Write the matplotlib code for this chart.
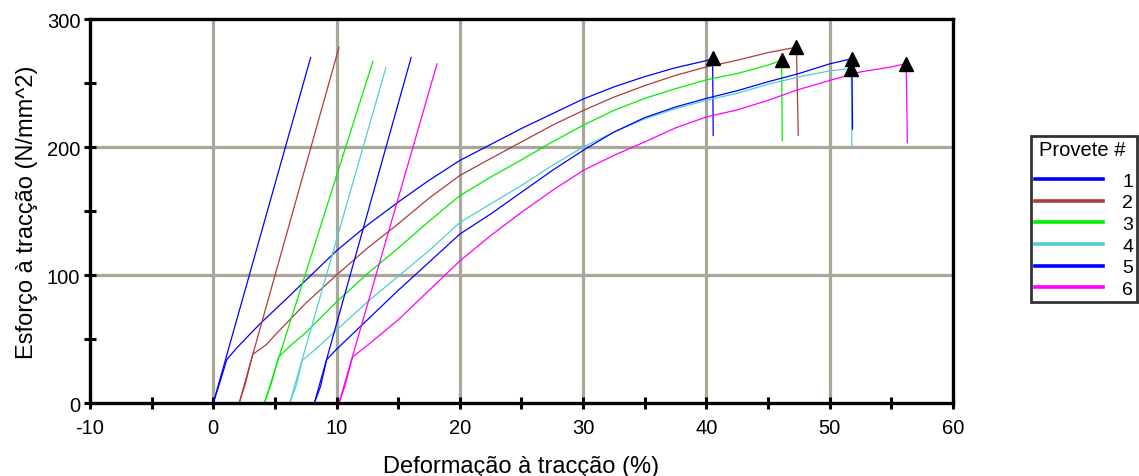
"""Tensile test curves for six specimens (stress vs strain)."""

import matplotlib

matplotlib.use("Agg")
import matplotlib.pyplot as plt
from matplotlib.lines import Line2D

plt.rcParams["font.family"] = ["Liberation Sans", "DejaVu Sans"]

# specimen labels and colours
specimens = ["1", "2", "3", "4", "5", "6"]
colors = ["#0000ff", "#b03a3a", "#00ee00", "#4fd0d0", "#0000ff", "#ff00ff"]

# strain (%) / stress (N/mm^2) curves, last point is the drop after rupture
strain_1 = [0, 0.5, 1.1, 1.9, 3.8, 6, 10, 12.5, 15, 17.5, 20, 22.5, 25, 27.5,
            30, 32.5, 35, 37.5, 40, 40.5, 40.55]
stress_1 = [0, 15, 34, 43, 62, 82, 119, 139, 157, 174, 189.5, 202, 214.5, 226,
            237.5, 247, 255, 262, 267.5, 269.7, 209]

strain_2 = [2.1, 2.6, 3.2, 4.35, 5, 7.5, 10, 12.5, 15, 17.5, 20, 22.5, 25, 27.5,
            30, 32.5, 35, 37.5, 40, 42.5, 45, 47.3, 47.45]
stress_2 = [0, 15, 38, 46, 53, 78, 100, 121, 140, 160, 177.8, 191, 204, 217,
            228.5, 239, 248, 256, 262.6, 267.8, 273.8, 278, 209]

strain_3 = [4.15, 4.7, 5.3, 6.4, 7.5, 10, 12.5, 15, 17.5, 20, 22.5, 25, 27.5,
            30, 32.5, 35, 37.5, 40, 42.5, 45, 46.1, 46.15]
stress_3 = [0, 15, 36, 46, 55, 79, 101, 121, 142, 162, 176.5, 190, 204,
            217, 228.7, 238, 245.6, 252.5, 257.4, 264, 267.8, 205]

strain_4 = [6.2, 6.7, 7.2, 8.4, 10, 12.5, 15, 17.5, 20, 22.5, 25, 27.5, 30,
            32.5, 35, 37.5, 40, 42.5, 45, 47.5, 50, 51.75, 51.8]
stress_4 = [0, 13, 33, 43, 57, 79, 99, 119, 141, 155.6, 170, 185.6, 200,
            211.7, 222, 230, 236.5, 242, 249, 254.8, 259.5, 261.3, 200]

strain_5 = [8.2, 8.7, 9.2, 10, 12.5, 15, 17.5, 20, 22.5, 25, 27.5, 30, 32.5,
            35, 37.5, 40, 42.5, 45, 47.5, 50, 51.8, 51.85]
stress_5 = [0, 13, 34, 42, 65, 88, 110, 132, 147.7, 164.7, 181.7, 197.4, 211.7,
            223, 231.3, 238, 244, 251, 257.4, 265, 269, 214]

strain_6 = [10.2, 10.7, 11.3, 12.5, 15, 17.5, 20, 22.5, 25, 27.5, 30, 32.5, 35,
            37.5, 40, 42.5, 45, 47.5, 50, 52.5, 55, 56.2, 56.3]
stress_6 = [0, 14, 36, 45, 65, 88, 111, 130.8, 149, 166, 181.7, 193.5, 204,
            215, 223.5, 229, 236.5, 245, 252, 258.7, 262.6, 265.2, 203.4]

strains = [strain_1, strain_2, strain_3, strain_4, strain_5, strain_6]
stresses = [stress_1, stress_2, stress_3, stress_4, stress_5, stress_6]

# elastic modulus lines: start strain, end strain, end stress
elastic_start = [0, 2.1, 4.15, 6.2, 8.2, 10.2]
elastic_end_strain = [7.9, 10.2, 12.95, 14.0, 16.05, 18.15]
elastic_end_stress = [270, 278, 267, 262, 270, 265]

x_ticks = [-10, 0, 10, 20, 30, 40, 50, 60]
y_ticks = [0, 100, 200, 300]

fig = plt.figure(figsize=(11.39, 4.77), dpi=100)
ax = fig.add_axes([0.079, 0.153, 0.7577, 0.805])

grid_color = "#aaa69a"
for gx in x_ticks[1:-1]:
    ax.axvline(gx, color=grid_color, lw=2.3, zorder=0)
for gy in y_ticks[1:-1]:
    ax.axhline(gy, color=grid_color, lw=2.3, zorder=0)

for i in range(len(specimens)):
    ax.plot(strains[i], stresses[i], color=colors[i], lw=0.9, zorder=2)
    ax.plot([elastic_start[i], elastic_end_strain[i]], [0, elastic_end_stress[i]],
            color=colors[i], lw=0.9, zorder=2)
    ax.plot(strains[i][-2], stresses[i][-2], marker="^", color="black",
            markersize=10, zorder=4, clip_on=False)

ax.set_xlim(-10, 60)
ax.set_ylim(0, 300)
ax.set_xticks(range(-10, 61, 5))
ax.set_xticklabels([str(t) if t % 10 == 0 else "" for t in range(-10, 61, 5)])
ax.set_yticks(range(0, 301, 50))
ax.set_yticklabels([str(t) if t % 100 == 0 else "" for t in range(0, 301, 50)])
ax.tick_params(direction="inout", length=9, width=2.2, labelsize=14.5)
ax.tick_params(axis="x", pad=6)
ax.tick_params(axis="y", pad=2.5)
for side in ["left", "right", "top", "bottom"]:
    ax.spines[side].set_linewidth(2.4)
    ax.spines[side].set_zorder(5)

ax.set_xlabel("Deformação à tracção (%)", fontsize=17, labelpad=13)
ax.set_ylabel("Esforço à tracção (N/mm^2)", fontsize=17, labelpad=6)

handles = [Line2D([0], [0], color=c, lw=2.6) for c in colors]
leg = fig.legend(handles, specimens, title="Provete #", loc="upper left",
                 bbox_to_anchor=(1031 / 1139, 1 - 137 / 477), fontsize=14,
                 title_fontsize=14.5, frameon=True, fancybox=False,
                 handlelength=3.5, handletextpad=1.0, labelspacing=0.21,
                 borderpad=0.2, alignment="left", borderaxespad=0)
leg._legend_box.sep = 9.5  # more room under the title
leg.get_title().set_x(4)
leg.get_frame().set_edgecolor("black")
leg.get_frame().set_linewidth(2.0)

fig.savefig("out.png", dpi=100)
